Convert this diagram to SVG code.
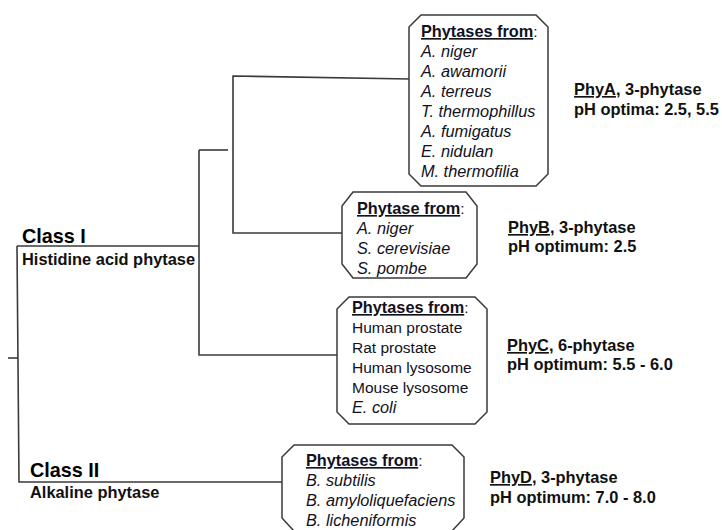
<svg xmlns="http://www.w3.org/2000/svg" width="722" height="530" viewBox="0 0 722 530">
<style>
.ln{fill:none;stroke:#3a3a3a;stroke-width:1.6}
.bx{fill:#fff;stroke:#3a3a3a;stroke-width:1.5}
.t{font-family:"Liberation Sans",Arial,sans-serif;font-size:15.5px;fill:#111122}
.i{font-style:italic;font-size:16.3px}
.b{font-weight:bold;font-size:16.3px}
.u{text-decoration:underline}
.h{font-family:"Liberation Sans",Arial,sans-serif;font-size:16.4px;font-weight:bold;fill:#111}
.c{font-family:"Liberation Sans",Arial,sans-serif;font-size:19.8px;font-weight:bold;fill:#000}
</style>
<rect width="722" height="530" fill="#fff"/>
<g id="connectors">
<path class="ln" d="M8,358 H18"/>
<path class="ln" d="M17,246 H199"/>
<path class="ln" d="M17,246 L19,482 H283"/>
<path class="ln" d="M199,150 V355 H338"/>
<path class="ln" d="M199,150 H228"/>
<path class="ln" d="M410,79 L233,76 V233 H342"/>
</g>
<g id="classI">
<text class="c" x="22" y="243">Class I</text>
<text class="h" x="22" y="265">Histidine acid phytase</text>
</g>
<g id="classII">
<text class="c" x="30" y="477">Class II</text>
<text class="h" x="30" y="498">Alkaline phytase</text>
</g>
<g id="boxA">
<path class="bx" d="M421,15 H536 L548,27 V174 L536,186 H421 L409,174 V27 Z"/>
<text class="t" x="421" y="37"><tspan class="b u">Phytases from</tspan>:</text>
<text class="t i" x="421" y="57">A. niger</text>
<text class="t i" x="421" y="77">A. awamorii</text>
<text class="t i" x="421" y="97">A. terreus</text>
<text class="t i" x="421" y="117">T. thermophillus</text>
<text class="t i" x="421" y="137">A. fumigatus</text>
<text class="t i" x="421" y="157">E. nidulan</text>
<text class="t i" x="421" y="177">M. thermofilia</text>
</g>
<g id="boxB">
<path class="bx" d="M353,192 H466 L477,206 V264 L466,278 H353 L342,264 V206 Z"/>
<text class="t" x="357" y="214"><tspan class="b u">Phytase from</tspan>:</text>
<text class="t i" x="357" y="234">A. niger</text>
<text class="t i" x="357" y="254">S. cerevisiae</text>
<text class="t i" x="357" y="274">S. pombe</text>
</g>
<g id="boxC">
<path class="bx" d="M349,297 H475 L487,309 V412 L475,424 H349 L337,412 V309 Z"/>
<text class="t" x="352" y="313"><tspan class="b u">Phytases from</tspan>:</text>
<text class="t" x="352" y="333">Human prostate</text>
<text class="t" x="352" y="353">Rat prostate</text>
<text class="t" x="352" y="373">Human lysosome</text>
<text class="t" x="352" y="393">Mouse lysosome</text>
<text class="t i" x="352" y="413">E. coli</text>
</g>
<g id="boxD">
<path class="bx" d="M294,445 H452 L464,457 V518 L452,531 H294 L282,518 V457 Z"/>
<text class="t" x="306" y="466"><tspan class="b u">Phytases from</tspan>:</text>
<text class="t i" x="306" y="486">B. subtilis</text>
<text class="t i" x="306" y="506">B. amyloliquefaciens</text>
<text class="t i" x="306" y="526">B. licheniformis</text>
</g>
<g id="labelA">
<text class="h" x="574" y="95"><tspan class="u">PhyA</tspan>, 3-phytase</text>
<text class="h" x="574" y="115">pH optima: 2.5, 5.5</text>
</g>
<g id="labelB">
<text class="h" x="508" y="233"><tspan class="u">PhyB</tspan>, 3-phytase</text>
<text class="h" x="508" y="252">pH optimum: 2.5</text>
</g>
<g id="labelC">
<text class="h" x="507" y="351"><tspan class="u">PhyC</tspan>, 6-phytase</text>
<text class="h" x="507" y="370">pH optimum: 5.5 - 6.0</text>
</g>
<g id="labelD">
<text class="h" x="490" y="483"><tspan class="u">PhyD</tspan>, 3-phytase</text>
<text class="h" x="490" y="503">pH optimum: 7.0 - 8.0</text>
</g>
</svg>
